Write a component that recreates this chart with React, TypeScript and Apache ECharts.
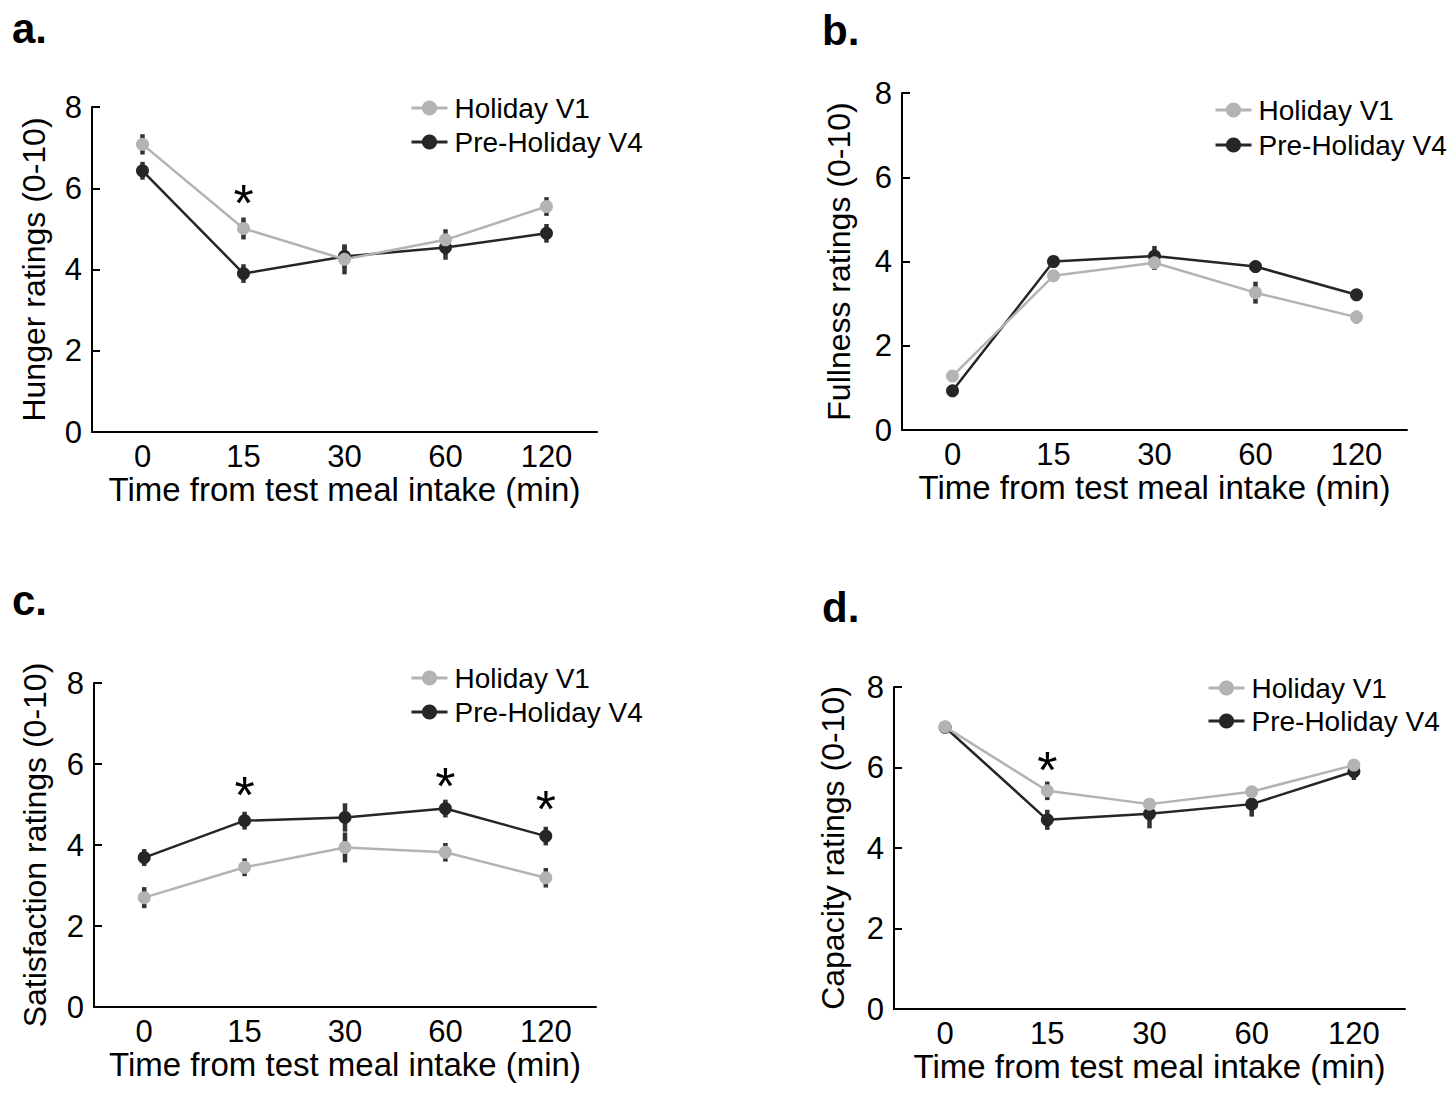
import React, { useEffect, useRef } from "react";
import * as echarts from "echarts";

// ---------- data ----------
const categories = ["0", "15", "30", "60", "120"];
const seriesNames = ["Holiday V1", "Pre-Holiday V4"];
const xTitle = "Time from test meal intake (min)";

// a. Hunger
const hungerHoliday = [7.08, 5.01, 4.25, 4.73, 5.55];
const hungerHolidayErr = [0.25, 0.27, 0.37, 0.26, 0.23];
const hungerPre = [6.43, 3.9, 4.32, 4.54, 4.89];
const hungerPreErr = [0.22, 0.23, 0.27, 0.3, 0.23];
const hungerSigIdx = [1];
const hungerSigY = [5.96];

// b. Fullness
const fullHoliday = [1.28, 3.66, 3.97, 3.26, 2.68];
const fullHolidayErr = [0.12, 0.12, 0.17, 0.26, 0.15];
const fullPre = [0.93, 4.0, 4.13, 3.88, 3.21];
const fullPreErr = [0.12, 0.1, 0.24, 0.1, 0.12];
const fullSigIdx: number[] = [];
const fullSigY: number[] = [];

// c. Satisfaction
const satHoliday = [2.7, 3.45, 3.94, 3.82, 3.19];
const satHolidayErr = [0.26, 0.22, 0.37, 0.23, 0.24];
const satPre = [3.69, 4.6, 4.68, 4.9, 4.22];
const satPreErr = [0.21, 0.22, 0.35, 0.22, 0.23];
const satSigIdx = [1, 3, 4];
const satSigY = [5.56, 5.79, 5.2];

// d. Capacity
const capHoliday = [7.01, 5.42, 5.09, 5.4, 6.06];
const capHolidayErr = [0.1, 0.23, 0.12, 0.12, 0.12];
const capPre = [7.0, 4.7, 4.85, 5.09, 5.9];
const capPreErr = [0.1, 0.25, 0.36, 0.31, 0.21];
const capSigIdx = [1];
const capSigY = [6.27];

const yTicks = { min: 0, max: 8, interval: 2 };

// ---------- style ----------
const FONT = "'Liberation Sans', Arial, Helvetica, sans-serif";
const GRAY = "#b3b3b3";
const DARK = "#262626";
const BAR = "#333333";

const panels = [
  {
    letter: "a.", letterXY: [12, 49], yName: "Hunger ratings (0-10)",
    hol: hungerHoliday, holErr: hungerHolidayErr, pre: hungerPre, preErr: hungerPreErr,
    sigIdx: hungerSigIdx, sigY: hungerSigY,
    grid: { left: 92, top: 107, width: 505, height: 325 }, yGap: 42,
    legend: { left: 410, top: 94, itemGap: 6 },
  },
  {
    letter: "b.", letterXY: [822, 51], yName: "Fullness ratings (0-10)",
    hol: fullHoliday, holErr: fullHolidayErr, pre: fullPre, preErr: fullPreErr,
    sigIdx: fullSigIdx, sigY: fullSigY,
    grid: { left: 902, top: 93, width: 505, height: 337 }, yGap: 47,
    legend: { left: 1214, top: 96, itemGap: 7 },
  },
  {
    letter: "c.", letterXY: [12, 621], yName: "Satisfaction ratings (0-10)",
    hol: satHoliday, holErr: satHolidayErr, pre: satPre, preErr: satPreErr,
    sigIdx: satSigIdx, sigY: satSigY,
    grid: { left: 94, top: 683, width: 502, height: 324 }, yGap: 43,
    legend: { left: 410, top: 664, itemGap: 6 },
  },
  {
    letter: "d.", letterXY: [822, 628], yName: "Capacity ratings (0-10)",
    hol: capHoliday, holErr: capHolidayErr, pre: capPre, preErr: capPreErr,
    sigIdx: capSigIdx, sigY: capSigY,
    grid: { left: 894, top: 687, width: 511, height: 322 }, yGap: 45,
    legend: { left: 1207, top: 674, itemGap: 5 },
  },
];

function buildOption() {
  const grid: any[] = [];
  const xAxis: any[] = [];
  const yAxis: any[] = [];
  const legend: any[] = [];
  const series: any[] = [];
  const graphic: any[] = [];

  panels.forEach((p, i) => {
    grid.push({ ...p.grid, containLabel: false });
    xAxis.push({
      type: "category",
      gridIndex: i,
      data: categories,
      boundaryGap: true,
      name: xTitle,
      nameLocation: "middle",
      nameGap: 41,
      nameTextStyle: { fontFamily: FONT, fontSize: 33, color: "#000" },
      axisLine: { lineStyle: { color: "#000", width: 2 } },
      axisTick: { inside: true, length: 8, lineStyle: { color: "#000", width: 2 } },
      axisLabel: { fontFamily: FONT, fontSize: 31, color: "#000", margin: 9 },
      splitLine: { show: false },
    });
    yAxis.push({
      type: "value",
      gridIndex: i,
      min: yTicks.min,
      max: yTicks.max,
      interval: yTicks.interval,
      name: p.yName,
      nameLocation: "middle",
      nameGap: p.yGap,
      nameTextStyle: { fontFamily: FONT, fontSize: 32, color: "#000" },
      axisLine: { show: true, lineStyle: { color: "#000", width: 2 } },
      axisTick: { show: true, inside: true, length: 8, lineStyle: { color: "#000", width: 2 } },
      axisLabel: { fontFamily: FONT, fontSize: 31, color: "#000", margin: 10 },
      splitLine: { show: false },
    });
    legend.push({
      orient: "vertical",
      left: p.legend.left,
      top: p.legend.top,
      padding: 0,
      itemGap: p.legend.itemGap,
      itemWidth: 36,
      itemHeight: 19,
      selectedMode: false,
      data: seriesNames,
      lineStyle: { width: 3 },
      textStyle: { fontFamily: FONT, fontSize: 28, color: "#000", padding: [0, 0, 0, 2] },
    });

    const errData: any[] = [];
    categories.forEach((_, j) => {
      errData.push([j, p.pre[j], p.preErr[j]]);
      errData.push([j, p.hol[j], p.holErr[j]]);
    });
    series.push({
      type: "custom",
      xAxisIndex: i,
      yAxisIndex: i,
      silent: true,
      z: 1,
      encode: { x: 0, y: 1 },
      data: errData,
      renderItem: (params: any, api: any) => {
        const x = api.value(0);
        const m = api.value(1);
        const e = api.value(2);
        const t = api.coord([x, m + e]);
        const b = api.coord([x, m - e]);
        return {
          type: "rect",
          shape: { x: t[0] - 2.25, y: t[1], width: 4.5, height: b[1] - t[1] },
          style: { fill: BAR },
        };
      },
    });
    series.push({
      type: "line",
      name: seriesNames[1],
      xAxisIndex: i,
      yAxisIndex: i,
      z: 2,
      data: p.pre,
      symbol: "circle",
      symbolSize: 13,
      itemStyle: { color: DARK },
      lineStyle: { color: DARK, width: 2.5 },
    });
    series.push({
      type: "line",
      name: seriesNames[0],
      xAxisIndex: i,
      yAxisIndex: i,
      z: 3,
      data: p.hol,
      symbol: "circle",
      symbolSize: 13,
      itemStyle: { color: GRAY },
      lineStyle: { color: GRAY, width: 2.5 },
    });
    if (p.sigIdx.length) {
      series.push({
        type: "custom",
        xAxisIndex: i,
        yAxisIndex: i,
        silent: true,
        z: 4,
        encode: { x: 0, y: 1 },
        data: p.sigIdx.map((k, n) => [k, p.sigY[n]]),
        renderItem: (params: any, api: any) => {
          const c = api.coord([api.value(0), api.value(1)]);
          return {
            type: "text",
            x: c[0],
            y: c[1] + 13,
            style: {
              text: "*",
              fontFamily: FONT,
              fontSize: 52,
              fill: "#000",
              align: "center",
              verticalAlign: "middle",
            },
          };
        },
      });
    }
    graphic.push({
      type: "text",
      x: p.letterXY[0],
      y: p.letterXY[1],
      style: {
        text: p.letter,
        fontFamily: FONT,
        fontWeight: "bold",
        fontSize: 42,
        fill: "#000",
        align: "left",
        verticalAlign: "bottom",
      },
    });
  });

  return {
    animation: false,
    backgroundColor: "#ffffff",
    grid,
    xAxis,
    yAxis,
    legend,
    series,
    graphic,
  };
}

export default function App() {
  const ref = useRef<HTMLDivElement>(null);
  useEffect(() => {
    if (!ref.current) return;
    const chart = echarts.init(ref.current, null, { renderer: "svg" });
    chart.setOption(buildOption() as any);
    return () => chart.dispose();
  }, []);
  return (
    <div
      ref={ref}
      style={{ position: "absolute", left: 0, top: 0, width: 1456, height: 1098, background: "#fff" }}
    />
  );
}
